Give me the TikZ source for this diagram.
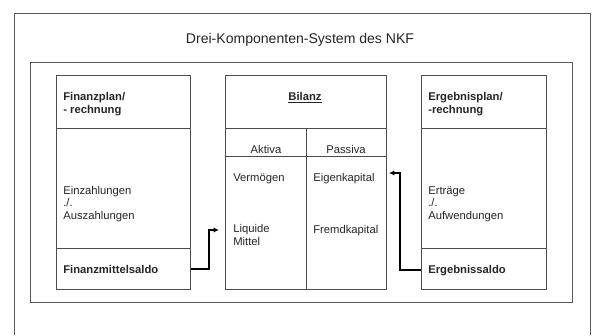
\documentclass[tikz,border=0pt]{standalone}
\usepackage{fontspec}
\setmainfont{Liberation Sans}
\usetikzlibrary{arrows.meta,positioning}

\begin{document}
\begin{tikzpicture}[x=0.03cm,y=-0.03cm,line width=0.6pt,
  frame/.style={draw=black!65},
  box/.style={draw=black!70,anchor=north west,inner sep=0pt},
  txt/.style={anchor=base west,inner sep=0pt,align=left,text=black!85,font=\fontsize{9.6}{10.6}\selectfont},
  head/.style={txt,font=\fontsize{9.6}{10.6}\selectfont\bfseries},
  link/.style={draw=black,line width=1.5pt,-{Latex[length=4.5pt,width=4.5pt]}}]
\tikzstyle{rule} = [draw=black!70]

\useasboundingbox (0,0) rectangle (592,335);
\fill[white] (0,0) rectangle (592,335);

% frames
\draw[frame] (14,335) -- (14,13) -- (590.5,13) -- (590.5,335);
\draw[frame] (30,62) rectangle (572.5,302.5);
\node[anchor=base,text=black!85,font=\fontsize{12}{14}\selectfont] at (300,43) (title) {Drei-Komponenten-System des NKF};

% Finanzplan (multi-line nodes sit on their last baseline)
\node[box,minimum width=4.02cm,minimum height=6.42cm] at (56,75) (fin) {};
\draw[rule] (56,128) -- (190,128);
\draw[rule] (56,248) -- (190,248);
\node[head] at (63,113) (finhead) {Finanzplan/\\- rechnung};
\node[txt] at (63,219) (finbody) {Einzahlungen\\./.\\Auszahlungen};
\node[head] at (63,273) (fsaldo) {Finanzmittelsaldo};

% Bilanz
\node[box,minimum width=4.83cm,minimum height=6.42cm] at (225,75) (bil) {};
\draw[rule] (225,128) -- (386,128);
\draw[rule] (225,156) -- (386,156);
\draw[rule] (306,128) -- (306,289);
\node[head,anchor=base] at (305,100) (bilhead) {\underline{Bilanz}};
\node[txt,anchor=base] at (266,153) (aktiva) {Aktiva};
\node[txt,anchor=base] at (346,153) (passiva) {Passiva};
\node[txt] at (233,181) (verm) {Vermögen};
\node[txt] at (233,245) (liquide) {Liquide\\Mittel};
\node[txt] at (313,181) (eigen) {Eigenkapital};
\node[txt] at (313,233) (fremd) {Fremdkapital};

% Ergebnisplan
\node[box,minimum width=3.75cm,minimum height=6.42cm] at (421,75) (erg) {};
\draw[rule] (421,128) -- (546,128);
\draw[rule] (421,248) -- (546,248);
\node[head] at (428,113) (erghead) {Ergebnisplan/\\-rechnung};
\node[txt] at (428,219) (ergbody) {Erträge\\./.\\Aufwendungen};
\node[head] at (428,273) (esaldo) {Ergebnissaldo};

% Arrows
\coordinate (liqin) at (219,230);
\coordinate (ekin) at (389,173);
\draw[link] (fin.east |- fsaldo.east) -- ++(18,0) |- (liqin);
\draw[link] (erg.west |- esaldo.west) -- ++(-21,0) |- (ekin);

\end{tikzpicture}
\end{document}
